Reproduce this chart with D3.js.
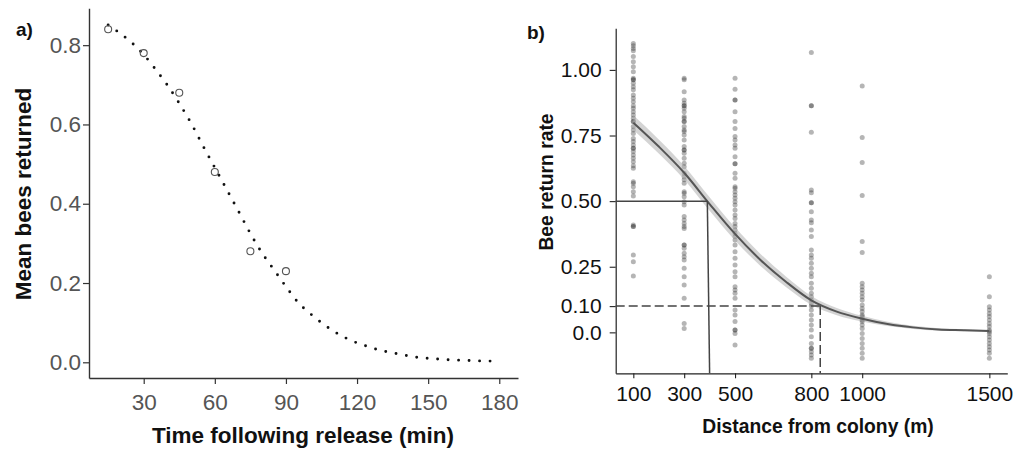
<!DOCTYPE html>
<html>
<head>
<meta charset="utf-8">
<script src="https://cdn.jsdelivr.net/npm/d3@7"></script>
<style>
  html, body { margin: 0; padding: 0; background: #fff; }
  svg { display: block; font-family: "Liberation Sans", Arial, Helvetica, sans-serif; }
</style>
</head>
<body>
<svg id="chart" width="1024" height="451"></svg>
<script>
// ---------- Panel a data ----------
const obsTime = [15, 30, 45, 60, 75, 90];
const obsMean = [0.84, 0.78, 0.68, 0.48, 0.28, 0.23];
const fitTime = [15, 20, 25, 30, 35, 40, 45, 50, 55, 60, 65, 70, 75, 80, 85, 90, 95, 100, 105, 110, 115, 120, 125, 130, 135, 140, 145, 150, 155, 160, 165, 170, 175, 177];
const fitMean = [0.851, 0.830, 0.806, 0.776, 0.739, 0.699, 0.653, 0.603, 0.546, 0.491, 0.436, 0.381, 0.325, 0.275, 0.233, 0.191, 0.152, 0.124, 0.100, 0.079, 0.062, 0.049, 0.039, 0.030, 0.024, 0.018, 0.013, 0.010, 0.008, 0.006, 0.005, 0.004, 0.003, 0.003];
const timeTicks = [30, 60, 90, 120, 150, 180];
const meanTicks = [0.0, 0.2, 0.4, 0.6, 0.8];

// ---------- Panel b data ----------
const distances = [100, 300, 500, 800, 1000, 1500];
const rate100 = [1.101, 1.092, 1.082, 1.073, 1.051, 1.031, 1.012, 0.993, 0.968, 0.962, 0.962, 0.949, 0.936, 0.924, 0.904, 0.892, 0.879, 0.863, 0.854, 0.841, 0.828, 0.816, 0.803, 0.803, 0.784, 0.771, 0.758, 0.739, 0.727, 0.714, 0.701, 0.701, 0.689, 0.676, 0.663, 0.650, 0.635, 0.625, 0.574, 0.568, 0.555, 0.536, 0.520, 0.409, 0.403, 0.403, 0.295, 0.269, 0.215];
const rate300 = [0.968, 0.962, 0.917, 0.885, 0.873, 0.863, 0.863, 0.854, 0.841, 0.822, 0.816, 0.803, 0.803, 0.784, 0.771, 0.765, 0.752, 0.733, 0.708, 0.695, 0.695, 0.682, 0.663, 0.644, 0.631, 0.606, 0.593, 0.581, 0.568, 0.536, 0.530, 0.517, 0.498, 0.485, 0.441, 0.428, 0.415, 0.403, 0.396, 0.333, 0.333, 0.320, 0.301, 0.288, 0.276, 0.244, 0.212, 0.180, 0.130, 0.034, 0.015];
const rate500 = [0.968, 0.926, 0.885, 0.885, 0.841, 0.803, 0.777, 0.746, 0.733, 0.714, 0.701, 0.669, 0.642, 0.642, 0.606, 0.587, 0.555, 0.549, 0.536, 0.523, 0.511, 0.498, 0.485, 0.466, 0.447, 0.434, 0.415, 0.403, 0.390, 0.377, 0.365, 0.352, 0.333, 0.307, 0.282, 0.257, 0.231, 0.212, 0.174, 0.161, 0.149, 0.130, 0.085, 0.066, 0.041, 0.009, 0.009, -0.004, -0.048];
const rate800 = [1.066, 0.863, 0.863, 0.762, 0.542, 0.532, 0.494, 0.494, 0.460, 0.428, 0.418, 0.390, 0.365, 0.314, 0.295, 0.282, 0.263, 0.244, 0.225, 0.212, 0.187, 0.168, 0.149, 0.136, 0.123, 0.111, 0.100, 0.085, 0.066, 0.047, 0.028, 0.009, -0.017, -0.042, -0.061, -0.061, -0.074, -0.086, -0.099];
const rate1000 = [0.939, 0.742, 0.647, 0.521, 0.346, 0.304, 0.187, 0.174, 0.161, 0.149, 0.136, 0.123, 0.104, 0.091, 0.079, 0.066, 0.060, 0.053, 0.047, 0.041, 0.028, 0.015, -0.004, -0.023, -0.042, -0.061, -0.080, -0.099];
const rate1500 = [0.212, 0.136, 0.098, 0.085, 0.072, 0.060, 0.047, 0.034, 0.022, 0.009, 0.003, -0.004, -0.017, -0.029, -0.042, -0.055, -0.067, -0.080, -0.099];
const fitDist = [100, 200, 300, 400, 500, 600, 700, 800, 900, 1000, 1100, 1200, 1300, 1400, 1500];
const fitRate = [0.799, 0.708, 0.608, 0.489, 0.375, 0.276, 0.193, 0.122, 0.079, 0.052, 0.032, 0.019, 0.011, 0.008, 0.005];
const fitUpper = [0.827, 0.735, 0.634, 0.515, 0.400, 0.299, 0.213, 0.139, 0.093, 0.063, 0.040, 0.025, 0.016, 0.012, 0.009];
const fitLower = [0.771, 0.681, 0.582, 0.463, 0.350, 0.253, 0.173, 0.105, 0.065, 0.041, 0.024, 0.013, 0.006, 0.004, 0.001];
const distTicks = [100, 300, 500, 800, 1000, 1500];
const rateTicks = [0.0, 0.10, 0.25, 0.50, 0.75, 1.00];
const rateTickLabels = ["0.0", "0.10", "0.25", "0.50", "0.75", "1.00"];
// reference lines: 50% return distance and 10% return distance
const half = { rate: 0.5, distTop: 391, distBottom: 400 };
const tenth = { rate: 0.10, dist: 835 };

const svg = d3.select("#chart");

// ================= Panel a =================
{
  const x = d3.scaleLinear().domain([6.92, 187.9]).range([89, 518]);
  const y = d3.scaleLinear().domain([-0.0396, 0.893]).range([378, 8.3]);
  const g = svg.append("g");

  const xAxis = g.append("g").attr("transform", "translate(0,378)")
    .call(d3.axisBottom(x).tickValues(timeTicks).tickSize(6).tickPadding(10).tickSizeOuter(0));
  const yAxis = g.append("g").attr("transform", "translate(89,0)")
    .call(d3.axisLeft(y).tickValues(meanTicks).tickFormat(d3.format(".1f")).tickSize(6).tickPadding(2).tickSizeOuter(0));
  [xAxis, yAxis].forEach(a => {
    a.select(".domain").attr("stroke", "#333").attr("stroke-width", 1.4);
    a.selectAll(".tick line").attr("stroke", "#333").attr("stroke-width", 1.2);
    a.selectAll(".tick text").attr("fill", "#555").attr("font-size", 22.5)
      .attr("font-family", "Liberation Sans, Arial, sans-serif");
  });

  const fitData = fitTime.map((t, i) => [t, fitMean[i]]);
  g.append("path").datum(fitData)
    .attr("fill", "none").attr("stroke", "#111").attr("stroke-width", 2.9)
    .attr("stroke-linecap", "round").attr("stroke-dasharray", "0 10.5")
    .attr("d", d3.line().x(d => x(d[0])).y(d => y(d[1])).curve(d3.curveMonotoneX));

  g.selectAll("circle.obs").data(obsTime.map((t, i) => [t, obsMean[i]])).enter()
    .append("circle").attr("class", "obs")
    .attr("cx", d => x(d[0])).attr("cy", d => y(d[1])).attr("r", 3.5)
    .attr("fill", "none").attr("stroke", "#555").attr("stroke-width", 1.1);

  g.append("text").attr("x", 303).attr("y", 443).attr("text-anchor", "middle")
    .attr("font-weight", "bold").attr("font-size", 22.5).attr("fill", "#111")
    .text("Time following release (min)");
  g.append("text").attr("transform", "translate(30.5,194) rotate(-90)").attr("text-anchor", "middle")
    .attr("font-weight", "bold").attr("font-size", 22.5).attr("fill", "#111")
    .text("Mean bees returned");
  g.append("text").attr("x", 16).attr("y", 36).attr("font-weight", "bold").attr("font-size", 19)
    .attr("fill", "#111").text("a)");
}

// ================= Panel b =================
{
  const x = d3.scaleLinear().domain([30.7, 1570.6]).range([615.7, 1007.3]);
  const y = d3.scaleLinear().domain([-0.156, 1.1585]).range([373.3, 28.3]);
  const g = svg.append("g");

  const xAxis = g.append("g").attr("transform", "translate(0,373.3)")
    .call(d3.axisBottom(x).tickValues(distTicks).tickFormat(d3.format("d")).tickSize(5).tickPadding(8).tickSizeOuter(0));
  const yAxis = g.append("g").attr("transform", "translate(615.7,0)")
    .call(d3.axisLeft(y).tickValues(rateTicks).tickFormat((d, i) => rateTickLabels[i]).tickSize(6).tickPadding(8).tickSizeOuter(0));
  [xAxis, yAxis].forEach(a => {
    a.select(".domain").attr("stroke", "#222").attr("stroke-width", 1.2);
    a.selectAll(".tick line").attr("stroke", "#222").attr("stroke-width", 1.1);
    a.selectAll(".tick text").attr("fill", "#111").attr("font-size", 21)
      .attr("font-family", "Liberation Sans, Arial, sans-serif");
  });

  // scatter points
  const cols = [rate100, rate300, rate500, rate800, rate1000, rate1500];
  const pts = [];
  cols.forEach((arr, ci) => arr.forEach(v => pts.push([distances[ci], v])));
  g.selectAll("circle.pt").data(pts).enter().append("circle").attr("class", "pt")
    .attr("cx", d => x(d[0])).attr("cy", d => y(d[1])).attr("r", 2.5)
    .attr("fill", "#333").attr("fill-opacity", 0.36);

  // ribbon
  const band = fitDist.map((d, i) => ({ d, lo: fitLower[i], hi: fitUpper[i], v: fitRate[i] }));
  g.append("path").datum(band)
    .attr("fill", "#b0b0b0").attr("fill-opacity", 0.55)
    .attr("d", d3.area().x(p => x(p.d)).y0(p => y(p.lo)).y1(p => y(p.hi)).curve(d3.curveMonotoneX));
  g.append("path").datum(band)
    .attr("fill", "none").attr("stroke", "#555").attr("stroke-width", 2)
    .attr("d", d3.line().x(p => x(p.d)).y(p => y(p.v)).curve(d3.curveMonotoneX));

  // reference lines
  const x0 = x.range()[0], yb = y.range()[0];
  g.append("line").attr("x1", x0).attr("x2", x(half.distTop)).attr("y1", y(half.rate)).attr("y2", y(half.rate))
    .attr("stroke", "#444").attr("stroke-width", 1.5);
  g.append("line").attr("x1", x(half.distTop)).attr("x2", x(half.distBottom)).attr("y1", y(half.rate)).attr("y2", yb)
    .attr("stroke", "#444").attr("stroke-width", 1.5);
  g.append("line").attr("x1", x0).attr("x2", x(tenth.dist)).attr("y1", y(tenth.rate)).attr("y2", y(tenth.rate))
    .attr("stroke", "#444").attr("stroke-width", 1.5).attr("stroke-dasharray", "9 4");
  g.append("line").attr("x1", x(tenth.dist)).attr("x2", x(tenth.dist)).attr("y1", y(tenth.rate)).attr("y2", yb)
    .attr("stroke", "#444").attr("stroke-width", 1.5).attr("stroke-dasharray", "9 4");

  g.append("text").attr("x", 818).attr("y", 433).attr("text-anchor", "middle")
    .attr("font-weight", "bold").attr("font-size", 19.3).attr("fill", "#111")
    .text("Distance from colony (m)");
  g.append("text").attr("transform", "translate(553,182) rotate(-90)").attr("text-anchor", "middle")
    .attr("font-weight", "bold").attr("font-size", 19.3).attr("fill", "#111")
    .text("Bee return rate");
  g.append("text").attr("x", 527).attr("y", 39).attr("font-weight", "bold").attr("font-size", 19)
    .attr("fill", "#111").text("b)");
}
</script>
</body>
</html>
